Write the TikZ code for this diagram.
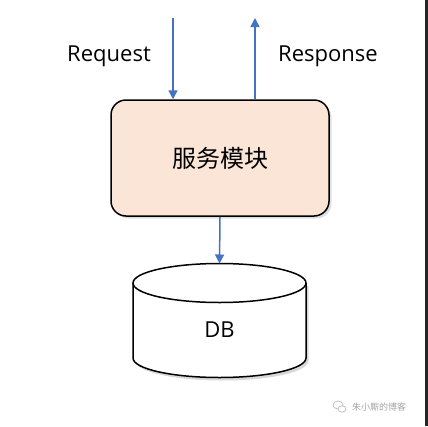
\documentclass[tikz,border=0pt]{standalone}
\usepackage{fontspec}
\setmainfont{Open Sans}
\newfontfamily\cjk{Noto Sans CJK SC}
\usetikzlibrary{arrows.meta,shadows}
\definecolor{arrowblue}{HTML}{4472C4}
\definecolor{peach}{HTML}{FBE5D6}
\begin{document}
\begin{tikzpicture}[x=1pt,y=-1pt,
  flow/.style={draw=arrowblue,line width=1.5pt,-{Triangle[length=9pt,width=9pt]}},
  lbl/.style={font=\fontsize{22}{26}\selectfont,inner sep=0pt},
  svcbox/.style={draw=black,line width=1.5pt,fill=peach,rounded corners=15pt,
    minimum width=218pt,minimum height=116pt,inner sep=0pt,
    drop shadow={opacity=0.25,shadow xshift=2.5pt,shadow yshift=-2.5pt}}]
\useasboundingbox (0,0) rectangle (428,426);
\fill[white] (0,0) rectangle (428,426);
\fill[black!85] (425,0) rectangle (428,426);
% service box
\node[svcbox,font=\cjk\fontsize{24}{28}\selectfont] (svc) at (220,158) {服务模块};
% request / response
\coordinate (reqtop) at (173,18);
\coordinate (resptop) at (255,18);
\draw[flow] (reqtop) -- (reqtop |- svc.north);
\draw[flow] (resptop |- svc.north) -- (resptop);
\node[lbl] (req) at (109,56) {Request};
\node[lbl] (resp) at (328,56) {Response};
% database cylinder
\fill[black!25,opacity=0.6] (135.5,286) -- (308.5,286) -- (308.5,361) arc[start angle=0,end angle=180,x radius=86.5,y radius=19.5] -- cycle;
\filldraw[fill=white,draw=black,line width=1.5pt] (133,283) -- (133,358) arc[start angle=180,end angle=0,x radius=86.5,y radius=19.5] -- (306,283);
\filldraw[fill=white,draw=black,line width=1.5pt] (219.5,283) ellipse[x radius=86.5,y radius=19.5];
\coordinate (dbtop) at (219.5,263.5);
\node[lbl] (db) at (219.5,330) {DB};
\draw[flow] (svc.south) -- (dbtop);
% watermark
\node[inner sep=0pt,text=black!35,font=\cjk\fontsize{9}{10}\selectfont,anchor=west] (wm) at (352,407) {朱小厮的博客};
\draw[black!30,line width=0.6pt] (338,405) ellipse[x radius=5,y radius=4];
\draw[black!30,line width=0.6pt,fill=white] (342,409) ellipse[x radius=4,y radius=3.2];
\end{tikzpicture}
\end{document}
